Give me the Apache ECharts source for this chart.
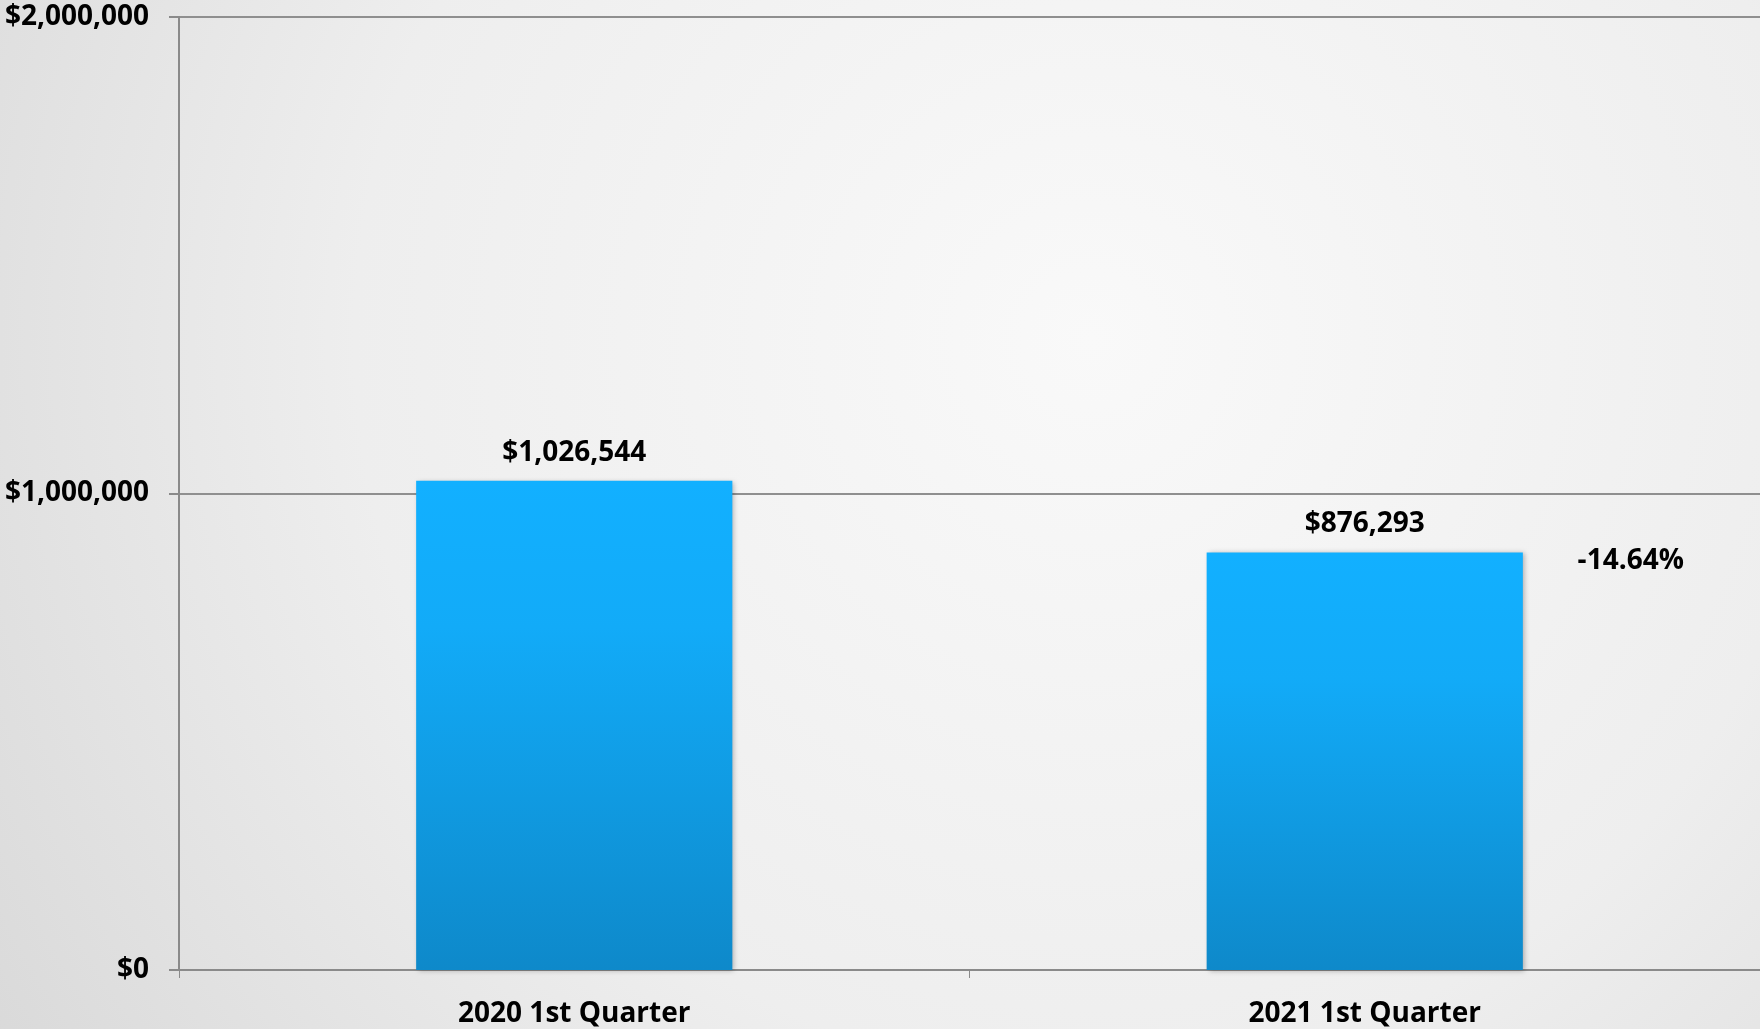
<!DOCTYPE html>
<html>
<head>
<meta charset="utf-8">
<title>1st Quarter Comparison</title>
<script src="https://cdn.jsdelivr.net/npm/echarts@6/dist/echarts.min.js"></script>
<style>
  html, body { margin: 0; padding: 0; width: 1760px; height: 1029px; overflow: hidden; }
  #chart { width: 1760px; height: 1029px; }
</style>
</head>
<body>
<div id="chart"></div>
<script>
// Quarterly totals
const categories = ['2020 1st Quarter', '2021 1st Quarter'];
const totals = [1026544, 876293];
const axisMax = 2000000;
const axisStep = 1000000;

const FONT = '"Open Sans", "Noto Sans", sans-serif';

function money(v) {
  return '$' + Math.round(v).toLocaleString('en-US');
}

// Year-over-year change, shown beside the second bar
const change = (totals[1] - totals[0]) / totals[0] * 100;
const changeText = change.toFixed(2) + '%';

const chart = echarts.init(document.getElementById('chart'), null, { renderer: 'canvas' });

chart.setOption({
  animation: false,
  backgroundColor: {
    type: 'radial', x: 0.62, y: 0.33, r: 1.3,
    colorStops: [
      { offset: 0, color: '#f9f9f9' },
      { offset: 0.55, color: '#eeeeee' },
      { offset: 1, color: '#d8d8d8' }
    ]
  },
  grid: { left: 179, right: 0, top: 17, bottom: 59, containLabel: false },
  xAxis: {
    type: 'category',
    data: categories,
    axisLine: { lineStyle: { color: '#8a8a8a', width: 2 } },
    axisTick: { show: true, length: 8, lineStyle: { color: '#8a8a8a', width: 1 } },
    axisLabel: { color: '#000', fontFamily: FONT, fontWeight: 'bold', fontSize: 28, margin: 30 }
  },
  yAxis: {
    type: 'value',
    min: 0,
    max: axisMax,
    interval: axisStep,
    axisLine: { show: true, lineStyle: { color: '#8a8a8a', width: 2 } },
    axisTick: { show: true, length: 10, lineStyle: { color: '#8a8a8a', width: 2 } },
    splitLine: { show: true, lineStyle: { color: '#8f8f8f', width: 2 } },
    axisLabel: {
      color: '#000', fontFamily: FONT, fontWeight: 'bold', fontSize: 28, margin: 30,
      formatter: v => money(v)
    }
  },
  series: [{
    type: 'bar',
    data: totals,
    barWidth: '40%',
    itemStyle: {
      color: {
        type: 'linear', x: 0, y: 0, x2: 0, y2: 1,
        colorStops: [
          { offset: 0, color: '#12b0ff' },
          { offset: 0.3, color: '#12abf8' },
          { offset: 1, color: '#0e89ca' }
        ]
      },
      shadowColor: 'rgba(0,0,0,0.28)',
      shadowBlur: 5,
      shadowOffsetX: 2,
      shadowOffsetY: 1
    },
    label: {
      show: true,
      position: 'top',
      distance: 14,
      color: '#000',
      fontFamily: FONT,
      fontWeight: 'bold',
      fontSize: 28,
      formatter: p => money(p.value)
    },
    markPoint: {
      symbol: 'circle',
      symbolSize: 0,
      silent: true,
      itemStyle: { color: 'rgba(0,0,0,0)' },
      label: {
        show: true,
        position: 'inside',
        offset: [266, 9],
        color: '#000',
        fontFamily: FONT,
        fontWeight: 'bold',
        fontSize: 28,
        formatter: changeText
      },
      data: [{ coord: [categories[1], totals[1]], value: change }]
    }
  }]
});
</script>
</body>
</html>
